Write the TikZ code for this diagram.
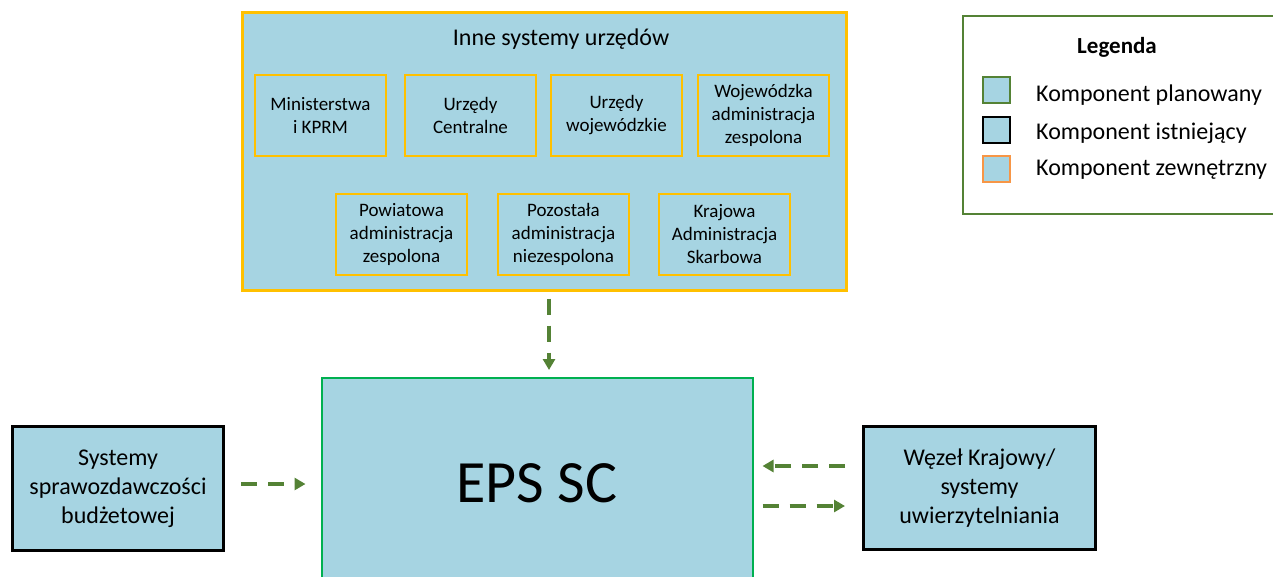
\documentclass[tikz,border=0pt]{standalone}
\usepackage{fontspec}
\setmainfont{Carlito}
\usetikzlibrary{arrows.meta}
\definecolor{fillb}{RGB}{166,212,226}
\definecolor{orng}{RGB}{255,192,0}
\definecolor{epsg}{RGB}{0,176,80}
\definecolor{dgreen}{RGB}{84,130,53}
\definecolor{lorange}{RGB}{247,150,70}
\begin{document}
\begin{tikzpicture}[x=1pt,y=-1pt,
  box/.style={draw, fill=fillb, rectangle, inner sep=0pt, align=center},
  innerbox/.style={box, draw=orng, line width=2.5pt, minimum width=131pt, minimum height=81pt, font=\fontsize{19}{23}\selectfont},
  sidebox/.style={box, draw=black, line width=3pt, font=\fontsize{24}{29}\selectfont},
  legsq/.style={box, line width=2.5pt, minimum width=27pt, minimum height=26pt},
  legtxt/.style={anchor=west, inner sep=0pt, font=\fontsize{24}{29}\selectfont},
  arr/.style={draw=dgreen, line width=3.5pt, dash pattern=on 16pt off 11pt, -{Triangle[length=11pt,width=12pt]}}
]
\useasboundingbox (0,0) rectangle (1273,576);
\clip (0,0) rectangle (1273,576);

% top container
\node[box, draw=orng, line width=3pt, minimum width=604pt, minimum height=278pt] (top) at (544,151) {};
\node[inner sep=0pt, font=\fontsize{24}{29}\selectfont] (title) at (561,39) {Inne systemy urzędów};
\node[innerbox] (b1) at (320.5,115.5) {Ministerstwa\\i KPRM};
\node[innerbox] (b2) at (470.5,115.5) {Urzędy\\Centralne};
\node[innerbox] (b3) at (616.5,115.5) {Urzędy\\wojewódzkie};
\node[innerbox] (b4) at (763.5,115.5) {Wojewódzka\\administracja\\zespolona};
\node[innerbox] (b5) at (401.5,234.5) {Powiatowa\\administracja\\zespolona};
\node[innerbox] (b6) at (563.5,234.5) {Pozostała\\administracja\\niezespolona};
\node[innerbox] (b7) at (724.5,234.5) {Krajowa\\Administracja\\Skarbowa};

% EPS SC
\node[box, draw=epsg, line width=2pt, minimum width=431pt, minimum height=210pt, font=\fontsize{60}{72}\selectfont] (eps) at (537,483) {EPS SC};

% side boxes
\node[sidebox, minimum width=211pt, minimum height=124pt] (sys) at (118,488.5) {Systemy\\sprawozdawczości\\budżetowej};
\node[sidebox, minimum width=232pt, minimum height=123pt] (wez) at (979.5,488) {Węzeł Krajowy/\\systemy\\uwierzytelniania};

% legend
\node[draw=dgreen, line width=2pt, fill=white, minimum width=317pt, minimum height=198pt, inner sep=0pt] (leg) at (1121.5,115) {};
\node[inner sep=0pt, font=\fontsize{23}{27}\selectfont\bfseries] (legt) at (1117,47) {Legenda};
\node[legsq, draw=dgreen] (sq1) at (996.5,90) {};
\node[legsq, draw=black] (sq2) at (996.5,130) {};
\node[legsq, draw=lorange] (sq3) at (996.5,169) {};
\node[legtxt] (t1) at (1036,95) {Komponent planowany};
\node[legtxt] (t2) at (1036,133) {Komponent istniejący};
\node[legtxt] (t3) at (1036,170) {Komponent zewnętrzny};

% connectors
\coordinate (dx) at (549,0);
\coordinate (ly) at (0,484);
\coordinate (ry1) at (0,466);
\coordinate (ry2) at (0,506);
\draw[arr, shorten <=7pt, shorten >=7pt] (top.south -| dx) -- (eps.north -| dx);
\draw[arr, shorten <=16pt, shorten >=15pt] (sys.east |- ly) -- (eps.west |- ly);
\draw[arr, shorten <=17pt, shorten >=9pt] (wez.west |- ry1) -- (eps.east |- ry1);
\draw[arr, shorten <=9pt, shorten >=17pt] (eps.east |- ry2) -- (wez.west |- ry2);
\end{tikzpicture}
\end{document}
